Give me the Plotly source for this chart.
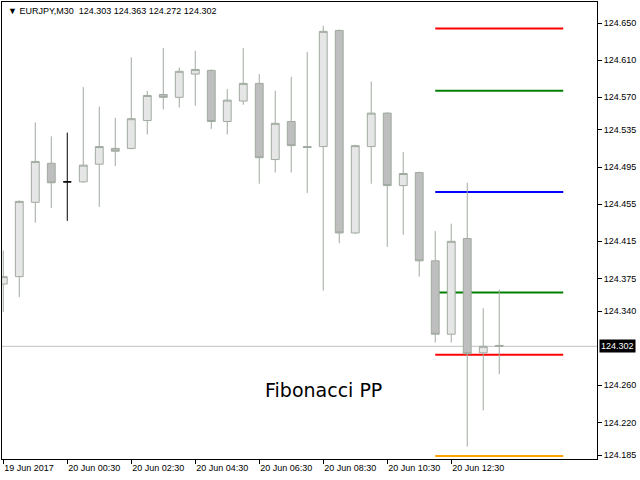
import pandas as pd
import plotly.graph_objects as go

# EURJPY M30 bars, 19 Jun 2017 22:30 -> 20 Jun 2017 14:00
symbol = "EURJPY,M30"
bar_times = pd.date_range("2017-06-19 22:30", periods=32, freq="30min")

open_ = [124.369, 124.377, 124.457, 124.499, 124.479, 124.479, 124.498, 124.515,
         124.515, 124.545, 124.573, 124.570, 124.595, 124.599, 124.544, 124.566,
         124.585, 124.503, 124.544, 124.517, 124.517, 124.642, 124.424, 124.517,
         124.553, 124.475, 124.489, 124.394, 124.315, 124.418, 124.295, 124.303]
high = [124.405, 124.459, 124.543, 124.528, 124.532, 124.581, 124.560, 124.548,
        124.613, 124.577, 124.623, 124.602, 124.620, 124.600, 124.579, 124.623,
        124.595, 124.577, 124.592, 124.619, 124.647, 124.643, 124.519, 124.587,
        124.554, 124.511, 124.490, 124.426, 124.434, 124.478, 124.343, 124.363]
low = [124.339, 124.355, 124.435, 124.451, 124.437, 124.478, 124.452, 124.496,
       124.514, 124.530, 124.557, 124.559, 124.561, 124.536, 124.530, 124.562,
       124.477, 124.489, 124.489, 124.467, 124.362, 124.413, 124.423, 124.477,
       124.409, 124.422, 124.377, 124.306, 124.306, 124.194, 124.233, 124.272]
close = [124.377, 124.458, 124.501, 124.478, 124.479, 124.497, 124.517, 124.512,
         124.547, 124.572, 124.570, 124.598, 124.600, 124.544, 124.567, 124.585,
         124.505, 124.542, 124.518, 124.516, 124.641, 124.424, 124.518, 124.553,
         124.475, 124.488, 124.394, 124.315, 124.415, 124.294, 124.302, 124.302]

doji_bar = 4  # open == close, painted black by the terminal

# Fibonacci pivot levels for the session
fib_levels = [124.644, 124.577, 124.468, 124.360, 124.293, 124.184]
fib_start = "2017-06-20 12:00"
fib_end = "2017-06-20 16:00"

x_tick_times = ["2017-06-19 22:30", "2017-06-20 00:30", "2017-06-20 02:30",
                "2017-06-20 04:30", "2017-06-20 06:30", "2017-06-20 08:30",
                "2017-06-20 10:30", "2017-06-20 12:30"]
x_tick_text = ["19 Jun 2017", "20 Jun 00:30", "20 Jun 02:30", "20 Jun 04:30",
               "20 Jun 06:30", "20 Jun 08:30", "20 Jun 10:30", "20 Jun 12:30"]
y_tick_vals = [124.650, 124.610, 124.570, 124.535, 124.495, 124.455,
               124.415, 124.375, 124.340, 124.260, 124.220, 124.185]
y_tick_text = [f"{v:.3f}" for v in y_tick_vals]

# styling
FIB_COLORS = ["#FF0000", "#008000", "#0000FF", "#008000", "#FF0000", "#FFA500"]
BULL_FILL = "#E6E6E6"
BEAR_FILL = "#BEBEBE"
EDGE = "#A0AAA0"
FONT = "Liberation Sans, Arial, sans-serif"

keep = [i for i in range(len(bar_times)) if i != doji_bar]

fig = go.Figure()

fig.add_trace(go.Candlestick(
    x=[bar_times[i] for i in keep],
    open=[open_[i] for i in keep],
    high=[high[i] for i in keep],
    low=[low[i] for i in keep],
    close=[close[i] for i in keep],
    increasing=dict(fillcolor=BULL_FILL, line=dict(color=EDGE, width=1)),
    decreasing=dict(fillcolor=BEAR_FILL, line=dict(color=EDGE, width=1)),
    hoverinfo="skip",
))
fig.add_trace(go.Candlestick(
    x=[bar_times[doji_bar]],
    open=[open_[doji_bar]], high=[high[doji_bar]],
    low=[low[doji_bar]], close=[close[doji_bar]],
    increasing=dict(fillcolor="black", line=dict(color="black", width=1)),
    decreasing=dict(fillcolor="black", line=dict(color="black", width=1)),
    hoverinfo="skip",
))

# pivot lines sit under the candles
for level, color in zip(fib_levels, FIB_COLORS):
    fig.add_shape(type="line", xref="x", yref="y", x0=fib_start, x1=fib_end,
                  y0=level, y1=level, layer="below",
                  line=dict(color=color, width=2))

# bid line + price tag
fig.add_hline(y=close[-1], line=dict(color="#C0C0C0", width=1), layer="below")
fig.add_annotation(
    xref="paper", yref="y", x=1, y=close[-1], xanchor="left", yanchor="middle",
    xshift=2, text=f"{close[-1]:.3f}", showarrow=False, bgcolor="black",
    borderpad=1, font=dict(family=FONT, size=9, color="white"),
)

# header: symbol + last bar OHLC
header = (f"\u25BC {symbol}  {open_[-1]:.3f} {high[-1]:.3f} "
          f"{low[-1]:.3f} {close[-1]:.3f}")
fig.add_annotation(
    xref="paper", yref="paper", x=0.007, y=0.981, xanchor="left",
    yanchor="middle", text=header, showarrow=False,
    font=dict(family=FONT, size=9, color="black"),
)

fig.add_annotation(
    xref="paper", yref="paper", x=0.5395, y=0.151, xanchor="center",
    yanchor="middle", text="Fibonacci PP", showarrow=False,
    font=dict(family="DejaVu Sans, sans-serif", size=19, color="black"),
)

bar_len = pd.Timedelta(minutes=30)
x_range = [bar_times[0] - 0.08 * bar_len, bar_times[0] + 37.11 * bar_len]

fig.update_layout(
    width=640, height=480,
    margin=dict(l=2, r=43, t=2, b=21),
    paper_bgcolor="white", plot_bgcolor="white",
    showlegend=False,
    boxgap=0.3,
    font=dict(family=FONT, size=9, color="black"),
    xaxis=dict(
        range=x_range, rangeslider=dict(visible=False),
        tickmode="array", tickvals=x_tick_times, ticktext=x_tick_text,
        ticks="outside", ticklen=4, tickcolor="black",
        ticklabelposition="outside right",
        showgrid=False, zeroline=False,
        showline=True, mirror=True, linecolor="black", linewidth=1,
    ),
    yaxis=dict(
        range=[124.1807, 124.6726], side="right",
        tickmode="array", tickvals=y_tick_vals, ticktext=y_tick_text,
        ticks="outside", ticklen=4, tickcolor="black",
        showgrid=False, zeroline=False,
        showline=True, mirror=True, linecolor="black", linewidth=1,
    ),
)

fig.write_html("out.html", config={"displayModeBar": False},
               post_script="document.body.style.margin = '0';")
